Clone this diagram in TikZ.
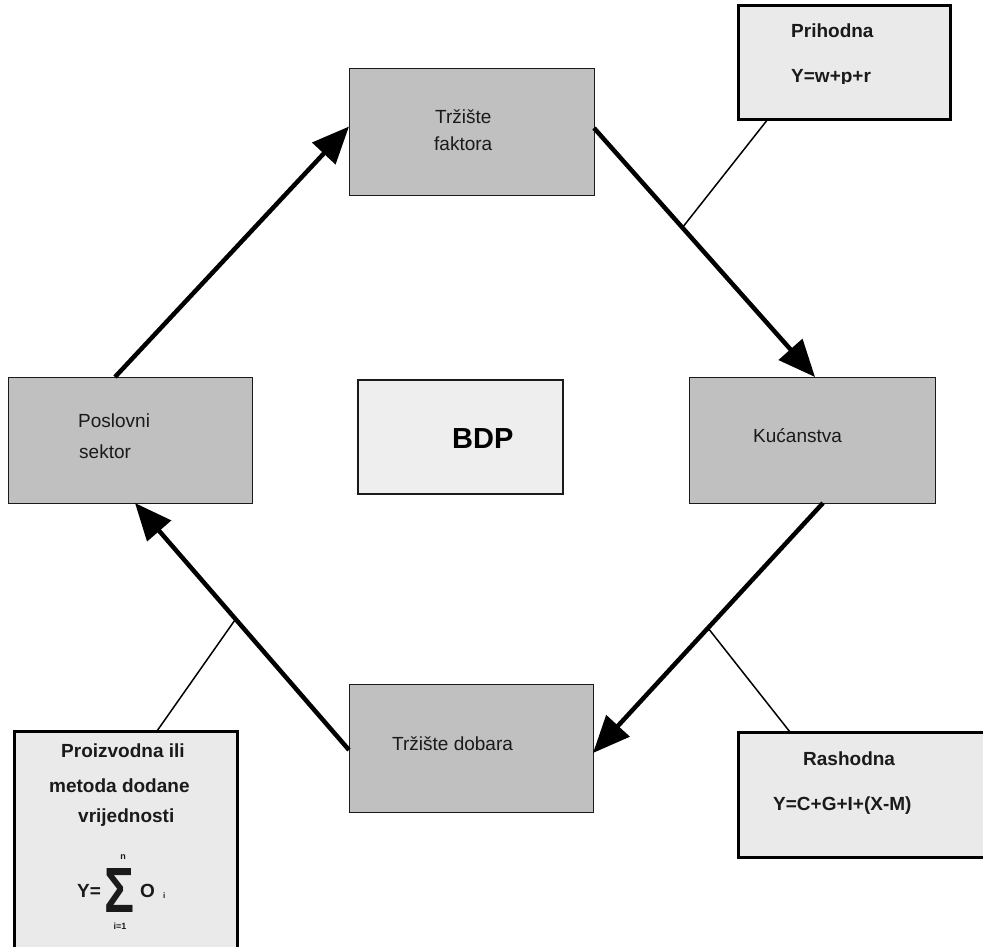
\documentclass[tikz,border=0pt]{standalone}
\usepackage{fontspec}
\setmainfont{Liberation Sans}
\usetikzlibrary{arrows.meta,calc}
\definecolor{boxgray}{HTML}{C0C0C0}
\definecolor{bdpfill}{HTML}{EEEEEE}
\definecolor{lblfill}{HTML}{EAEAEA}
\definecolor{ink}{HTML}{1A1A1A}
\newcommand\txtA{\fontsize{19}{23}\selectfont}
\newcommand\txtB{\fontsize{19}{23}\selectfont\bfseries}
\begin{document}
\begin{tikzpicture}[x=1pt,y=-1pt,
  graybox/.style={draw=ink, line width=1pt, fill=boxgray, outer sep=0pt, inner sep=0pt, anchor=north west},
  lblbox/.style={draw=black, line width=3pt, fill=lblfill, outer sep=0pt, inner sep=0pt, anchor=north west},
  bdpbox/.style={draw=ink, line width=1.3pt, fill=bdpfill, outer sep=0pt, inner sep=0pt, anchor=north west},
  txt/.style={anchor=base west, inner sep=0pt, text=ink, font=\txtA},
  btxt/.style={anchor=base west, inner sep=0pt, text=ink, font=\txtB},
  flow/.style={line width=4.5pt, draw=black, -{Triangle[length=37pt,width=31pt]}},
  link/.style={line width=1.5pt, draw=black}]
\path[clip] (0,0) rectangle (983,946);
% main boxes
\node[graybox, minimum width=245pt, minimum height=127pt] (tf) at (349,68) {};
\node[graybox, minimum width=244pt, minimum height=126pt] (ps) at (8,377) {};
\node[graybox, minimum width=246pt, minimum height=126pt] (ku) at (689,377) {};
\node[graybox, minimum width=244pt, minimum height=128pt] (td) at (349,684) {};
\node[bdpbox, minimum width=205pt, minimum height=114pt] (bdp) at (358,380) {};
% label boxes
\node[lblbox, minimum width=212pt, minimum height=114pt] (pr) at (738,5) {};
\node[lblbox, minimum width=270pt, minimum height=125pt] (ra) at (738,732) {};
\node[lblbox, minimum width=223pt, minimum height=240pt] (pz) at (14,731) {};
% texts in main boxes
\node[txt] (t1) at (435,123) {Tržište};
\node[txt] (t2) at (434,150) {faktora};
\node[txt] (t3) at (78,427) {Poslovni};
\node[txt] (t4) at (79,458) {sektor};
\node[txt] (t5) at (753,442) {Kućanstva};
\node[txt] (t6) at (392,750) {Tržište dobara};
\node[anchor=base west, inner sep=0pt, text=black, font=\fontsize{29}{34}\selectfont\bfseries] (t7) at (452,448) {BDP};
% label texts
\node[btxt] (l1) at (791,37) {Prihodna};
\begin{scope}
\clip (780,55) rectangle (900,83.5);
\node[btxt] (l2) at (791,82) {Y=w+p+r};
\end{scope}
\node[btxt] (l3) at (803,765) {Rashodna};
\node[btxt] (l4) at (773,810) {Y=C+G+I+(X-M)};
\node[btxt] (l5) at (61,757) {Proizvodna ili};
\node[btxt] (l6) at (49,792) {metoda dodane};
\node[btxt] (l7) at (78,822) {vrijednosti};
\node[btxt] (l8) at (77,897) {Y=};
\node[inner sep=0pt, text=ink] (l9) at (119.5,890) {\resizebox{30pt}{44pt}{\bfseries Σ}};
\node[inner sep=0pt, text=ink, font=\fontsize{9}{10}\selectfont\bfseries] (l10) at (123,857) {n};
\node[inner sep=0pt, text=ink, font=\fontsize{9}{10}\selectfont\bfseries] (l11) at (120,926) {i=1};
\node[btxt] (l12) at (140,897) {O};
\node[anchor=base west, inner sep=0pt, text=ink, font=\fontsize{8}{9}\selectfont\bfseries] (l13) at (163,898) {i};
% flow arrows
\draw[flow] ([xshift=107pt]ps.north west) -- coordinate[pos=0.5] (m1) ([yshift=5pt]tf.west);
\draw[flow] ([yshift=3.5pt]tf.east) -- coordinate[pos=0.4] (m2) ([xshift=3pt]ku.north);
\draw[flow] ([xshift=11pt]ku.south) -- coordinate[pos=0.5] (m3) ([yshift=-5pt]td.east);
\draw[flow] ([yshift=-2pt]td.west) -- coordinate[pos=0.53] (m4) ([xshift=5pt]ps.south);
% connectors
\draw[link] ([xshift=30pt]pr.south west) -- (m2);
\draw[link] ([xshift=52pt]ra.north west) -- (m3);
\draw[link] ([xshift=143pt]pz.north west) -- (m4);
\end{tikzpicture}
\end{document}
